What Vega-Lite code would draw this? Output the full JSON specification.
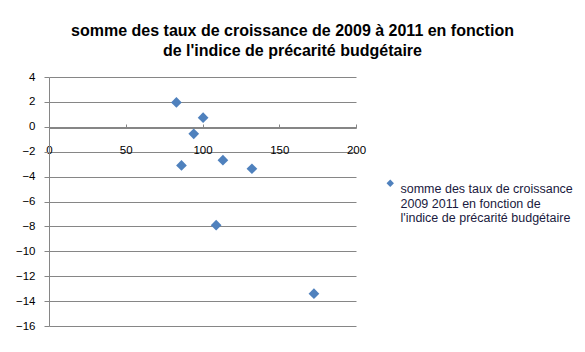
{
  "$schema": "https://vega.github.io/schema/vega-lite/v6.json",
  "autosize": "none",
  "width": 307,
  "height": 249,
  "padding": {"left": 49, "top": 77, "right": 229, "bottom": 26},
  "background": "white",
  "title": {
    "text": ["somme des taux de croissance de 2009 à 2011 en fonction", "de l'indice de précarité budgétaire"],
    "font": "Liberation Sans",
    "fontSize": 16,
    "fontWeight": "bold",
    "color": "#000000",
    "lineHeight": 20,
    "anchor": "middle",
    "dx": 90,
    "offset": 12
  },
  "data": {
    "values": [
      {"indice": 83.0, "somme": 1.96, "serie": "s"},
      {"indice": 100.4, "somme": 0.73, "serie": "s"},
      {"indice": 94.3, "somme": -0.56, "serie": "s"},
      {"indice": 86.3, "somme": -3.1, "serie": "s"},
      {"indice": 113.3, "somme": -2.68, "serie": "s"},
      {"indice": 132.2, "somme": -3.37, "serie": "s"},
      {"indice": 108.9, "somme": -7.9, "serie": "s"},
      {"indice": 172.6, "somme": -13.4, "serie": "s"}
    ]
  },
  "mark": {"type": "point", "shape": "diamond", "filled": true, "size": 115, "opacity": 1},
  "encoding": {
    "x": {
      "field": "indice",
      "type": "quantitative",
      "scale": {"domain": [0, 200], "nice": false, "zero": false},
      "axis": {
        "title": null,
        "orient": "bottom",
        "offset": -198,
        "values": [0, 50, 100, 150, 200],
        "grid": false,
        "domainColor": "#868686",
        "tickColor": "#868686",
        "tickSize": -4,
        "labelPadding": 20,
        "labelFont": "Liberation Sans",
        "labelFontSize": 11.5,
        "labelColor": "#000000",
        "labelFlush": false
      }
    },
    "y": {
      "field": "somme",
      "type": "quantitative",
      "scale": {"domain": [-16, 4], "nice": false, "zero": false},
      "axis": {
        "title": null,
        "values": [-16, -14, -12, -10, -8, -6, -4, -2, 0, 2, 4],
        "grid": true,
        "gridColor": "#868686",
        "domainColor": "#868686",
        "tickColor": "#868686",
        "tickSize": 5,
        "labelPadding": 9,
        "labelFont": "Liberation Sans",
        "labelFontSize": 11.5,
        "labelColor": "#000000"
      }
    },
    "color": {
      "field": "serie",
      "type": "nominal",
      "scale": {"range": ["#4F81BD"]},
      "legend": {
        "title": null,
        "orient": "none",
        "legendX": 335,
        "legendY": 100,
        "symbolType": "diamond",
        "symbolSize": 55,
        "labelExpr": "[\"somme des taux de croissance\", \"2009 2011 en fonction de\", \"l'indice de précarité budgétaire\"]",
        "labelFont": "Liberation Sans",
        "labelFontSize": 12.5,
        "labelColor": "#1a1a40",
        "labelLimit": 300,
        "labelOffset": 4,
        "labelBaseline": "top"
      }
    }
  },
  "config": {
    "view": {"stroke": null},
    "axis": {"domainWidth": 1, "gridWidth": 1}
  }
}
